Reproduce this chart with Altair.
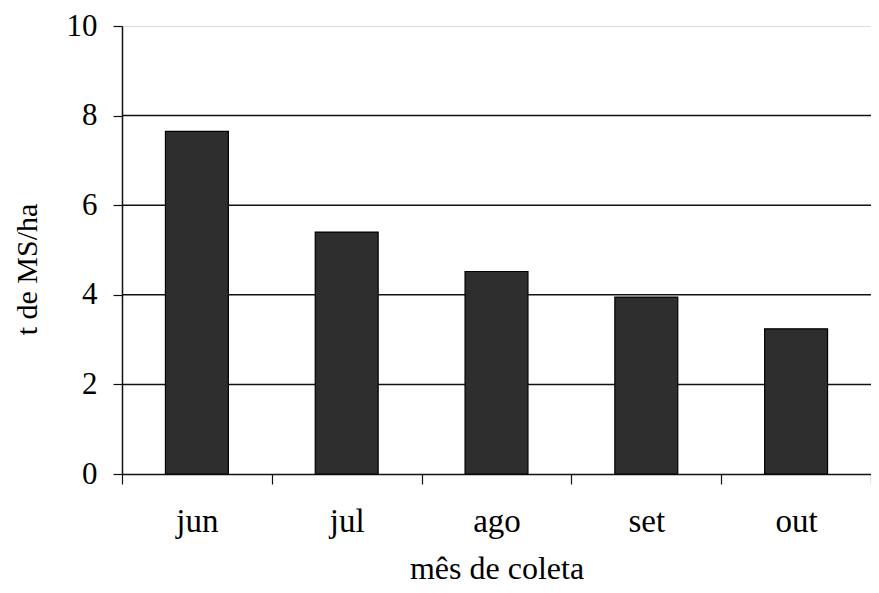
import altair as alt
import pandas as pd

months = ["jun", "jul", "ago", "set", "out"]
values = [7.65, 5.4, 4.52, 3.95, 3.24]
grid_values = [2, 4, 6, 8]
y_ticks = [0, 2, 4, 6, 8, 10]

df = pd.DataFrame({"mes": months, "t": values})
grid_df = pd.DataFrame({"g": grid_values})

FONT = "Liberation Serif"

y_scale = alt.Scale(domain=[0, 10], nice=False)
y_axis = alt.Axis(title="t de MS/ha", values=y_ticks, grid=False,
                  tickSize=9, tickColor="#111", tickWidth=1.2,
                  domainColor="#111", domainWidth=1.5,
                  labelFont=FONT, labelFontSize=31, labelColor="#000",
                  labelPadding=16, titleFont=FONT, titleFontSize=30,
                  titleFontWeight="normal", titleColor="#000",
                  titleAngle=270, titleX=-86, titleY=243,
                  titleAlign="center", titleBaseline="alphabetic")

grid = alt.Chart(grid_df).mark_rule(color="#111", strokeWidth=1.5).encode(
    y=alt.Y("g:Q", scale=y_scale, axis=y_axis, title="t de MS/ha")
)

bars = alt.Chart(df).mark_bar(
    color="#2e2e2e", stroke="#000", strokeWidth=1.2,
    width=alt.RelativeBandSize(0.42),
).encode(
    x=alt.X("mes:N", sort=months,
            scale=alt.Scale(paddingInner=0, paddingOuter=0),
            axis=alt.Axis(title="mês de coleta", labelAngle=0, tickBand="extent",
                          tickSize=10, tickColor="#111", tickWidth=1.2,
                          domainColor="#111", domainWidth=1.5,
                          labelFont=FONT, labelFontSize=33, labelColor="#000",
                          labelPadding=21, titleFont=FONT, titleFontSize=32,
                          titleFontWeight="normal", titleColor="#000", titlePadding=15)),
    y=alt.Y("t:Q", scale=y_scale, axis=y_axis, title="t de MS/ha"),
)

chart = alt.layer(grid, bars).properties(
    width=749, height=448,
    autosize=alt.AutoSizeParams(type="none"),
    padding={"left": 114, "top": 18, "right": 0, "bottom": 110},
).configure_axis(grid=False).configure_view(strokeWidth=0).configure(background="white")

chart.save("out.html", embed_options={"renderer": "svg", "actions": False})
